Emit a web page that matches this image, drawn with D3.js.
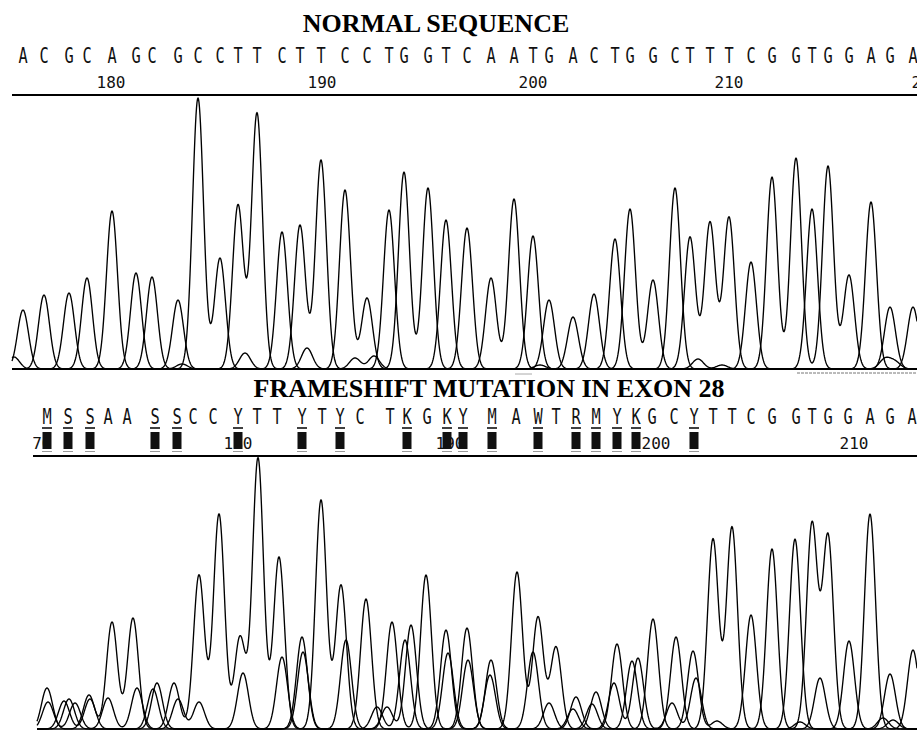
<!DOCTYPE html>
<html><head><meta charset="utf-8">
<script src="https://cdn.jsdelivr.net/npm/d3@7/dist/d3.min.js"></script>
<style>body{margin:0;background:#fff}svg{display:block}</style>
</head><body>
<svg id="chart" width="917" height="730"></svg>
<script>
// ---------------- DATA ----------------
// Top panel: called bases and their peak positions (scan units) / heights
const topBases = ["A","C","G","C","A","G","C","G","C","C","T","T","C","T","T","C","C","T","G","G","T","C","A","A","T","G","A","C","T","G","G","C","T","T","T","C","G","G","T","G","G","A","G","A"];
const topPeakPos = [23,44,69,87,112,136,152,178,198,220,238,257,282,300,321,345,367,389,404,428,446,467,491,514,533,549,573,594,615,630,653,675,690,710,729,751,772,796,812,828,849,871,890,913];
const topPeakHeight = [59,74,76,91,158,96,92,69,271,111,164,256,137,144,209,179,71,159,197,181,149,141,91,170,133,69,52,75,130,160,89,181,132,147,152,107,192,211,160,203,94,167,62,62];
// small background peaks in the top panel
const topMinorPos = [14,182,245,307,355,374,540,698,722,885,895];
const topMinorHeight = [12,5,16,21,11,13,4,10,4,10,7];
const topTickLabels = ["180","190","200","210","220"];
const topTickPos = [111,322,533,729,926];

// Bottom panel: base calls (IUPAC) and their positions
const bottomBases = ["M","S","S","A","A","S","S","C","C","Y","T","T","Y","T","Y","C","T","K","G","K","Y","M","A","W","T","R","M","Y","K","G","C","Y","T","T","C","G","G","T","G","G","A","G","A"];
const bottomBasePos = [47,68,90,108,127,155,177,193,213,238,257,277,302,322,340,360,390,407,427,447,463,492,516,538,556,576,596,617,636,652,674,694,713,732,751,772,796,812,828,848,870,890,912];
const bottomTickLabels = ["170","180","190","200","210"];
const bottomTickPos = [37,238,450,656,854];
// Bottom traces (overlapping sequences after the frameshift)
const bottomTrace1Pos = [47,89,112,133,174,199,219,240,258,279,321,341,392,426,467,517,538,556,596,653,713,732,772,812,828,870,913];
const bottomTrace1Height = [41,34,107,111,46,154,215,92,271,172,229,144,107,154,101,157,112,82,37,110,190,202,180,205,193,215,79];
const bottomTrace2Pos = [69,157,302,366,446,491,576,617,676,751,795,849,890];
const bottomTrace2Height = [30,46,92,130,99,69,32,85,92,114,190,88,55];
const bottomTrace3Pos = [48,75,108,137,178,199,243,282,346,387,411,448,490,533,573,614,638,672,696,820,883];
const bottomTrace3Height = [27,26,31,41,30,27,56,72,89,22,104,76,54,77,20,46,71,26,51,51,11];
const bottomTrace4Pos = [64,90,153,303,377,405,468,549,592,632,693,717,800,893];
const bottomTrace4Height = [28,30,40,77,22,89,69,26,25,68,78,8,7,9];

const titles = ["NORMAL SEQUENCE","FRAMESHIFT MUTATION IN EXON 28"];

// ---------------- LAYOUT ----------------
const svg = d3.select("#chart");
const W = 917;
const x = d3.scaleLinear().domain([0, 917]).range([0, W]);
const yTop = d3.scaleLinear().domain([0, 271]).range([369, 98]);
const yBot = d3.scaleLinear().domain([0, 271]).range([729, 458]);
const SIGMA = 5.5;

function traceSamples(pos, hts, x0, x1){
  const pts = [];
  for(let s = x0; s <= x1; s += 0.5){
    let v = 0;
    for(let i=0;i<pos.length;i++){ const d = s-pos[i]; v += hts[i]*Math.exp(-d*d/(2*SIGMA*SIGMA)); }
    pts.push([s, v]);
  }
  return pts;
}
function drawTrace(g, pos, hts, yS, x0, x1){
  const line = d3.line().x(d=>x(d[0])).y(d=>yS(d[1]));
  g.append("path").attr("d", line(traceSamples(pos, hts, x0, x1)))
    .attr("fill","none").attr("stroke","#000").attr("stroke-width",1.35).attr("stroke-linejoin","round");
}

const serif = "'Liberation Serif','Times New Roman',serif";
const mono = "'DejaVu Sans Mono',monospace";

// ---------------- TOP PANEL ----------------
svg.append("text").attr("x",436).attr("y",32).attr("text-anchor","middle")
  .attr("font-family",serif).attr("font-weight","bold").attr("font-size",26).text(titles[0]);

const topLetters = svg.append("g");
topBases.forEach((b,i)=>{
  topLetters.append("text").attr("transform",`translate(${x(topPeakPos[i])},63) scale(0.85,1.2)`)
    .attr("text-anchor","middle").attr("font-family",mono).attr("font-size",18).attr("fill","#111").text(b);
});
topTickLabels.forEach((t,i)=>{
  svg.append("text").attr("x",x(topTickPos[i])).attr("y",88).attr("text-anchor","middle")
    .attr("font-family",mono).attr("font-size",16).attr("fill","#111").text(t);
});
svg.append("line").attr("x1",x(12)).attr("x2",W).attr("y1",95).attr("y2",95).attr("stroke","#000").attr("stroke-width",2);

const gTop = svg.append("g");
["A","C","G","T"].forEach(base=>{
  const idx = topBases.map((b,i)=>b===base?i:-1).filter(i=>i>=0);
  drawTrace(gTop, idx.map(i=>topPeakPos[i]), idx.map(i=>topPeakHeight[i]), yTop, 12, 917);
});
drawTrace(gTop, topMinorPos, topMinorHeight, yTop, 12, 917);
svg.append("line").attr("x1",x(12)).attr("x2",W).attr("y1",yTop(0)).attr("y2",yTop(0)).attr("stroke","#000").attr("stroke-width",1.6);
svg.append("line").attr("x1",x(797)).attr("x2",W).attr("y1",373).attr("y2",373).attr("stroke","#777").attr("stroke-width",1).attr("stroke-dasharray","3,1");
svg.append("line").attr("x1",x(515)).attr("x2",x(532)).attr("y1",374).attr("y2",374).attr("stroke","#aaa").attr("stroke-width",1);

// ---------------- BOTTOM PANEL ----------------
svg.append("text").attr("x",489).attr("y",397).attr("text-anchor","middle")
  .attr("font-family",serif).attr("font-weight","bold").attr("font-size",26).text(titles[1]);

const defs = svg.append("defs");
defs.append("clipPath").attr("id","clipBot").append("rect").attr("x",33).attr("y",400).attr("width",W-33).attr("height",330);
const gBotText = svg.append("g").attr("clip-path","url(#clipBot)");
bottomTickLabels.forEach((t,i)=>{
  gBotText.append("text").attr("x",x(bottomTickPos[i])).attr("y",449).attr("text-anchor","middle")
    .attr("font-family",mono).attr("font-size",16).attr("fill","#111").text(t);
});
bottomBases.forEach((b,i)=>{
  const cx = x(bottomBasePos[i]);
  gBotText.append("text").attr("transform",`translate(${cx},424) scale(0.85,1.2)`)
    .attr("text-anchor","middle").attr("font-family",mono).attr("font-size",18).attr("fill","#111").text(b);
  if(!["A","C","G","T"].includes(b)){
    gBotText.append("line").attr("x1",cx-5).attr("x2",cx+5).attr("y1",428).attr("y2",428).attr("stroke","#000").attr("stroke-width",1.5);
    gBotText.append("rect").attr("x",cx-4.5).attr("y",432).attr("width",9).attr("height",17).attr("fill","#111");
    gBotText.append("line").attr("x1",cx-5).attr("x2",cx+5).attr("y1",451.5).attr("y2",451.5).attr("stroke","#999").attr("stroke-width",1);
  }
});
svg.append("line").attr("x1",x(33)).attr("x2",W).attr("y1",456).attr("y2",456).attr("stroke","#000").attr("stroke-width",2);

const gBot = svg.append("g");
drawTrace(gBot, bottomTrace1Pos, bottomTrace1Height, yBot, 37, 917);
drawTrace(gBot, bottomTrace2Pos, bottomTrace2Height, yBot, 37, 917);
drawTrace(gBot, bottomTrace3Pos, bottomTrace3Height, yBot, 37, 917);
drawTrace(gBot, bottomTrace4Pos, bottomTrace4Height, yBot, 37, 917);
svg.append("line").attr("x1",x(37)).attr("x2",W).attr("y1",yBot(0)).attr("y2",yBot(0)).attr("stroke","#000").attr("stroke-width",1.6);
</script>
</body></html>
